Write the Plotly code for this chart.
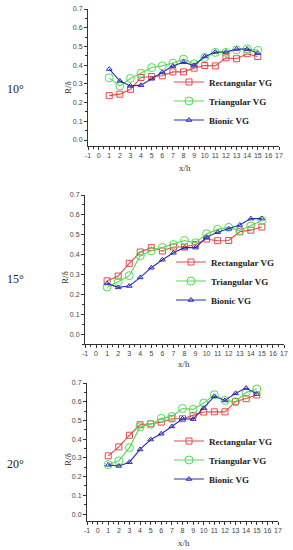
import plotly.graph_objects as go

x_pos = list(range(1, 16))
series_names = ["Rectangular VG", "Triangular VG", "Bionic VG"]
panel_labels = ["10°", "15°", "20°"]

rect_10 = [0.237, 0.245, 0.271, 0.334, 0.339, 0.343, 0.364, 0.364, 0.384, 0.398, 0.396, 0.439, 0.434, 0.461, 0.446]
tri_10 = [0.332, 0.289, 0.329, 0.357, 0.387, 0.396, 0.411, 0.432, 0.407, 0.441, 0.468, 0.468, 0.482, 0.487, 0.479]
bio_10 = [0.379, 0.316, 0.289, 0.293, 0.327, 0.361, 0.395, 0.416, 0.398, 0.446, 0.470, 0.470, 0.486, 0.486, 0.464]

rect_15 = [0.268, 0.292, 0.356, 0.413, 0.435, 0.418, 0.438, 0.438, 0.451, 0.478, 0.470, 0.471, 0.515, 0.523, 0.539]
tri_15 = [0.237, 0.263, 0.294, 0.394, 0.419, 0.436, 0.451, 0.471, 0.460, 0.505, 0.527, 0.537, 0.520, 0.544, 0.572]
bio_15 = [0.255, 0.235, 0.242, 0.285, 0.334, 0.374, 0.409, 0.435, 0.435, 0.488, 0.513, 0.530, 0.549, 0.581, 0.581]

rect_20 = [0.311, 0.359, 0.421, 0.477, 0.482, 0.491, 0.509, 0.509, 0.527, 0.545, 0.546, 0.546, 0.600, 0.616, 0.636]
tri_20 = [0.264, 0.284, 0.355, 0.466, 0.479, 0.511, 0.521, 0.564, 0.559, 0.593, 0.637, 0.607, 0.600, 0.650, 0.668]
bio_20 = [0.263, 0.257, 0.277, 0.345, 0.398, 0.429, 0.468, 0.509, 0.507, 0.566, 0.629, 0.607, 0.645, 0.673, 0.641]

x_ticks = list(range(-1, 18))
y_ticks = [0.0, 0.1, 0.2, 0.3, 0.4, 0.5, 0.6, 0.7]

W, H = 293, 550
colors = ["#e24a4a", "#52dc52", "#2c2cb8"]
symbols = ["square-open", "circle-open", "triangle-up-open"]
msizes = [6, 8, 5]

# pixel geometry per panel
panels = [
    dict(xl=88, xr=279, yt=9, yb=146, ymin=-0.032, lab=(15, 89), ylab=(68, 88), xlab=(185, 168), leg=(169, 101)),
    dict(xl=85, xr=284, yt=195, yb=344, ymin=-0.05, lab=(15, 279), ylab=(65, 278), xlab=(184, 364), leg=(171, 281)),
    dict(xl=87, xr=278, yt=383, yb=521, ymin=-0.037, lab=(15, 464), ylab=(68, 460), xlab=(184, 543), leg=(169, 460)),
]
data = [[rect_10, tri_10, bio_10], [rect_15, tri_15, bio_15], [rect_20, tri_20, bio_20]]

fig = go.Figure()
annotations = []
layout = {}
for i, (p, ser) in enumerate(zip(panels, data)):
    n = "" if i == 0 else str(i + 1)
    leg = "legend" if i == 0 else f"legend{i+1}"
    for j in range(3):
        fig.add_trace(go.Scatter(
            x=x_pos, y=ser[j], name=series_names[j], mode="lines+markers",
            line=dict(color=colors[j], width=1.1),
            marker=dict(symbol=symbols[j], size=msizes[j], color=colors[j], line=dict(width=1)),
            xaxis="x" + n, yaxis="y" + n, legend=leg,
        ))
    axis_common = dict(showline=True, linecolor="#333", linewidth=1, showgrid=False, zeroline=False,
                       ticks="outside", ticklen=3, tickcolor="#333", mirror=False,
                       tickfont=dict(family="Liberation Sans", size=7, color="#444"))
    layout["xaxis" + n] = dict(axis_common, domain=[p["xl"] / W, p["xr"] / W], range=[-1, 17],
                               tickvals=x_ticks, ticktext=[str(v) for v in x_ticks],
                               minor=dict(ticks="outside", ticklen=2, dtick=0.5, tickcolor="#333"),
                               anchor="y" + n)
    layout["yaxis" + n] = dict(axis_common, domain=[1 - p["yb"] / H, 1 - p["yt"] / H], range=[p["ymin"], 0.7],
                               tickvals=y_ticks, ticktext=[f"{v:.1f}" for v in y_ticks],
                               minor=dict(ticks="outside", ticklen=2, dtick=0.05, tickcolor="#333"),
                               anchor="x" + n)
    layout[leg] = dict(x=p["leg"][0] / W, y=1 - p["leg"][1] / H, xanchor="left", yanchor="middle",
                       bgcolor="rgba(0,0,0,0)", itemwidth=30, tracegroupgap=0,
                       font=dict(family="Liberation Serif", size=9, color="#222", weight="bold"))
    annotations.append(dict(text=panel_labels[i], x=p["lab"][0] / W, y=1 - p["lab"][1] / H,
                            xref="paper", yref="paper", showarrow=False, xanchor="center", yanchor="middle",
                            font=dict(family="Liberation Serif", size=12, color="#222")))
    annotations.append(dict(text="R/δ", x=p["ylab"][0] / W, y=1 - p["ylab"][1] / H, textangle=-90,
                            xref="paper", yref="paper", showarrow=False, xanchor="center", yanchor="middle",
                            font=dict(family="Liberation Serif", size=9, color="#333")))
    annotations.append(dict(text="x/h", x=p["xlab"][0] / W, y=1 - p["xlab"][1] / H,
                            xref="paper", yref="paper", showarrow=False, xanchor="center", yanchor="middle",
                            font=dict(family="Liberation Serif", size=9, color="#333")))

fig.update_layout(width=W, height=H, margin=dict(l=0, r=0, t=0, b=0, autoexpand=False),
                  paper_bgcolor="white", plot_bgcolor="white", annotations=annotations, **layout)
fig.write_html("out.html", config={"displayModeBar": False},
               post_script="document.body.style.margin='0';document.body.style.overflow='hidden';")
